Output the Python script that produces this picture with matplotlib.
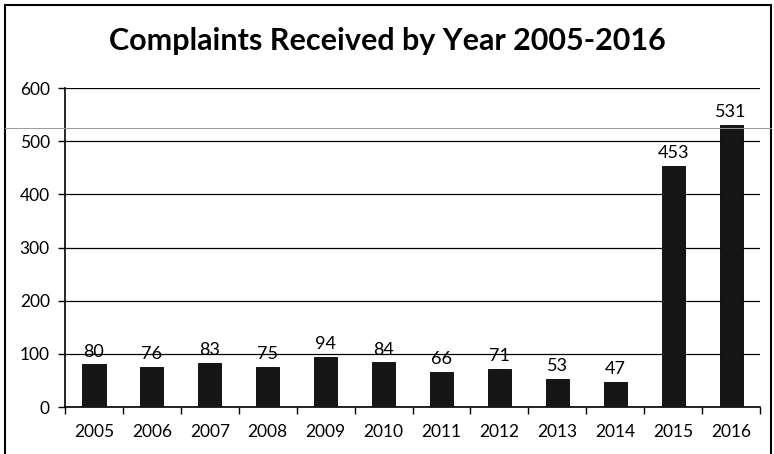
import numpy as np
import matplotlib.pyplot as plt
from matplotlib.lines import Line2D
from matplotlib.patches import Rectangle

# Data
years = ['2005', '2006', '2007', '2008', '2009', '2010',
         '2011', '2012', '2013', '2014', '2015', '2016']
complaints = [80, 76, 83, 75, 94, 84, 66, 71, 53, 47, 453, 531]
y_ticks = [0, 100, 200, 300, 400, 500, 600]

plt.rcParams['font.family'] = ['Lato', 'DejaVu Sans']

fig = plt.figure(figsize=(7.74, 4.54), dpi=100)
ax = fig.add_axes([0.084, 0.1035, 0.898, 0.7025])

x = np.arange(len(years))
bars = ax.bar(x, complaints, width=0.4, color='#161616', edgecolor='#000000',
              linewidth=0.6, zorder=3)

for xi, v in zip(x, complaints):
    ax.text(xi, v + 9, str(v), ha='center', va='bottom', fontsize=13, zorder=4)

ax.set_xlim(-0.5, len(years) - 0.5)
ax.set_ylim(0, 600)
ax.set_yticks(y_ticks)
ax.set_yticklabels([str(t) for t in y_ticks], fontsize=12.5)
ax.yaxis.grid(True, color='black', linewidth=0.9, zorder=0)

# category labels centred, tick marks at category boundaries
ax.set_xticks(x)
ax.set_xticklabels(years, fontsize=12.5)
ax.tick_params(axis='x', length=0, pad=12)
ax.set_xticks(np.arange(len(years) + 1) - 0.5, minor=True)
ax.tick_params(axis='x', which='minor', length=5, width=1, direction='out')
ax.tick_params(axis='y', length=5, width=1, direction='out', pad=6)

for s in ['top', 'right']:
    ax.spines[s].set_visible(False)
ax.spines['left'].set_linewidth(1.2)
ax.spines['bottom'].set_linewidth(1.2)

fig.suptitle('Complaints Received by Year 2005-2016', fontsize=22,
             fontweight='bold', y=0.94, va='top')

# outer chart border
fig.patches.append(Rectangle((0.007, -0.01), 0.989, 1.0, transform=fig.transFigure,
                             fill=False, edgecolor='black', linewidth=1.5))
# stray scan line
fig.lines.append(Line2D([0.007, 0.996], [1 - 128 / 454] * 2, transform=fig.transFigure,
                        color='#999999', linewidth=0.7))

fig.savefig('out.png', dpi=100)
